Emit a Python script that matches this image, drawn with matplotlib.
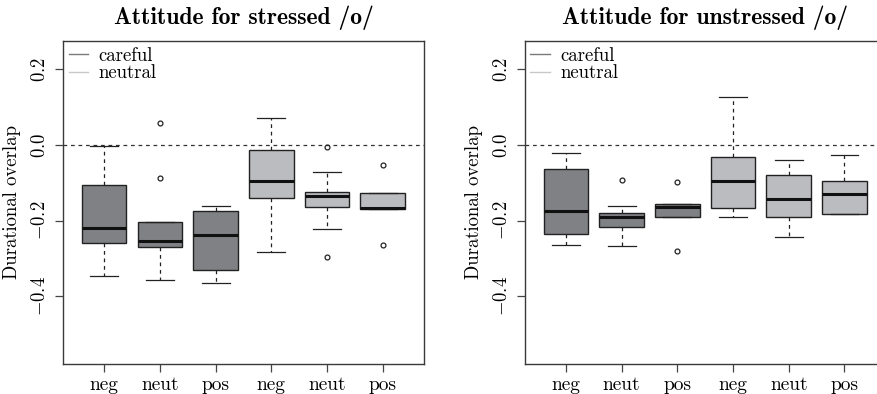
import matplotlib
matplotlib.use('Agg')
import matplotlib.pyplot as plt
from matplotlib.lines import Line2D
from matplotlib.ticker import FuncFormatter

plt.rcParams['font.family'] = ['cmr10', 'DejaVu Serif']
plt.rcParams['mathtext.fontset'] = 'cm'
plt.rcParams['axes.unicode_minus'] = False

# data (durational overlap)
labels = ['neg', 'neut', 'pos', 'neg', 'neut', 'pos']
groups = ['careful', 'careful', 'careful', 'neutral', 'neutral', 'neutral']

# stressed /o/
st_whislo = [-0.346, -0.358, -0.364, -0.284, -0.222, -0.169]
st_q1 = [-0.259, -0.269, -0.329, -0.139, -0.164, -0.169]
st_med = [-0.218, -0.253, -0.238, -0.094, -0.135, -0.167]
st_q3 = [-0.105, -0.204, -0.174, -0.012, -0.123, -0.128]
st_whishi = [-0.002, -0.204, -0.160, 0.072, -0.071, -0.128]
st_fliers = [[], [0.058, -0.086], [], [], [-0.006, -0.296], [-0.054, -0.263]]

# unstressed /o/
un_whislo = [-0.263, -0.267, -0.190, -0.189, -0.243, -0.182]
un_q1 = [-0.235, -0.216, -0.190, -0.166, -0.190, -0.181]
un_med = [-0.174, -0.189, -0.164, -0.096, -0.142, -0.129]
un_q3 = [-0.062, -0.180, -0.157, -0.032, -0.080, -0.094]
un_whishi = [-0.020, -0.161, -0.156, 0.128, -0.039, -0.027]
un_fliers = [[], [-0.092], [-0.097, -0.281], [], [], []]

box_colors = {'careful': '#808185', 'neutral': '#bbbcc0'}
legend_colors = {'careful': '#7a7a7a', 'neutral': '#c8c8c8'}


def make_stats(whislo, q1, med, q3, whishi, fliers):
    stats = []
    for i in range(len(med)):
        stats.append({'whislo': whislo[i], 'q1': q1[i], 'med': med[i],
                      'q3': q3[i], 'whishi': whishi[i], 'fliers': fliers[i]})
    return stats


def draw_panel(ax, stats, title):
    pos = list(range(1, len(stats) + 1))
    bp = ax.bxp(stats, positions=pos, widths=0.8, capwidths=0.5,
                patch_artist=True, showfliers=True, manage_ticks=False,
                boxprops=dict(edgecolor='#222222', linewidth=1.0),
                medianprops=dict(color='#111111', linewidth=2.2),
                whiskerprops=dict(color='#222222', linewidth=0.9,
                                  linestyle=(0, (3, 3))),
                capprops=dict(color='#222222', linewidth=0.9),
                flierprops=dict(marker='o', markersize=3.5,
                                markerfacecolor='none',
                                markeredgecolor='#222222',
                                markeredgewidth=0.9))
    for patch, g in zip(bp['boxes'], groups):
        patch.set_facecolor(box_colors[g])
    ax.axhline(0.0, color='#333333', linewidth=0.9, linestyle=(0, (3, 3)),
               zorder=0)
    ax.set_xlim(0.26, 6.74)
    ax.set_ylim(-0.578, 0.275)
    ax.set_xticks(pos)
    ax.set_xticklabels(labels, fontsize=14)
    ax.set_yticks([-0.4, -0.2, 0.0, 0.2])
    ax.yaxis.set_major_formatter(FuncFormatter(lambda v, p: r'$%.1f$' % v))
    for t in ax.get_yticklabels():
        t.set_rotation(90)
        t.set_verticalalignment('center')
    ax.tick_params(axis='y', labelsize=13.5, length=6, width=0.9,
                   color='#444444', pad=4)
    ax.tick_params(axis='x', length=6, width=0.9, color='#444444', pad=3)
    for s in ax.spines.values():
        s.set_color('#3a3a3a')
        s.set_linewidth(1.0)
    ax.set_ylabel('Durational overlap', fontsize=13.5, labelpad=7)
    ax.set_title(title, fontsize=17, family=['cmb10', 'DejaVu Serif'],
                 fontweight='bold', pad=12)
    handles = [Line2D([], [], color=legend_colors['careful'], linewidth=1.0),
               Line2D([], [], color=legend_colors['neutral'], linewidth=1.0)]
    ax.legend(handles, ['careful', 'neutral'], loc='upper left',
              frameon=False, fontsize=13.5, handlelength=1.05,
              handletextpad=0.55, labelspacing=0.0,
              borderaxespad=0.3, borderpad=0.0)


fig = plt.figure(figsize=(8.77, 3.94), dpi=100)
ax1 = fig.add_axes([0.0718, 0.0769, 0.4116, 0.819])
ax2 = fig.add_axes([0.5983, 0.0769, 0.4116, 0.819])

draw_panel(ax1, make_stats(st_whislo, st_q1, st_med, st_q3, st_whishi,
                           st_fliers), 'Attitude for stressed /o/')
draw_panel(ax2, make_stats(un_whislo, un_q1, un_med, un_q3, un_whishi,
                           un_fliers), 'Attitude for unstressed /o/')

fig.savefig('out.png', dpi=100)
